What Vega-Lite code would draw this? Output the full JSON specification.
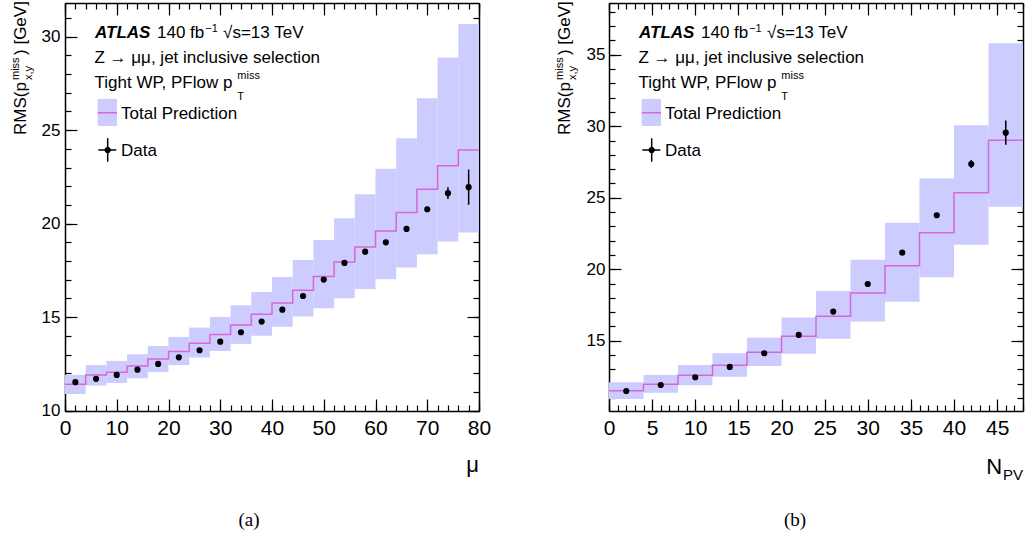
{
  "$schema": "https://vega.github.io/schema/vega-lite/v6.json",
  "padding": {"left": 10, "top": 1, "right": 6, "bottom": 2},
  "background": "white",
  "spacing": 63,
  "config": {
    "view": {"stroke": null},
    "font": "Liberation Sans",
    "text": {"font": "Liberation Sans", "color": "black"},
    "axis": {"grid": false, "tickColor": "black", "tickWidth": 1.2, "domainColor": "black", "domainWidth": 1.5, "labelColor": "black", "labelFont": "Liberation Sans", "labelFlush": false, "labelOverlap": false, "zindex": 1}
  },
  "datasets": {
    "mu": [
      {"mu": 2, "lo": 0, "hi": 4, "pred": 11.41, "lower": 10.89, "upper": 11.91, "rms": 11.52, "err": 0.03},
      {"mu": 6, "lo": 4, "hi": 8, "pred": 11.91, "lower": 11.34, "upper": 12.44, "rms": 11.70, "err": 0.03},
      {"mu": 10, "lo": 8, "hi": 12, "pred": 12.05, "lower": 11.48, "upper": 12.66, "rms": 11.91, "err": 0.03},
      {"mu": 14, "lo": 12, "hi": 16, "pred": 12.39, "lower": 11.73, "upper": 13.02, "rms": 12.19, "err": 0.03},
      {"mu": 18, "lo": 16, "hi": 20, "pred": 12.76, "lower": 12.07, "upper": 13.46, "rms": 12.50, "err": 0.03},
      {"mu": 22, "lo": 20, "hi": 24, "pred": 13.16, "lower": 12.44, "upper": 13.94, "rms": 12.85, "err": 0.03},
      {"mu": 26, "lo": 24, "hi": 28, "pred": 13.60, "lower": 12.84, "upper": 14.44, "rms": 13.23, "err": 0.03},
      {"mu": 30, "lo": 28, "hi": 32, "pred": 14.07, "lower": 13.19, "upper": 15.01, "rms": 13.69, "err": 0.03},
      {"mu": 34, "lo": 32, "hi": 36, "pred": 14.58, "lower": 13.57, "upper": 15.63, "rms": 14.19, "err": 0.03},
      {"mu": 38, "lo": 36, "hi": 40, "pred": 15.15, "lower": 14.01, "upper": 16.35, "rms": 14.76, "err": 0.03},
      {"mu": 42, "lo": 40, "hi": 44, "pred": 15.76, "lower": 14.49, "upper": 17.15, "rms": 15.40, "err": 0.04},
      {"mu": 46, "lo": 44, "hi": 48, "pred": 16.44, "lower": 15.03, "upper": 18.06, "rms": 16.13, "err": 0.04},
      {"mu": 50, "lo": 48, "hi": 52, "pred": 17.17, "lower": 15.48, "upper": 19.13, "rms": 17.01, "err": 0.05},
      {"mu": 54, "lo": 52, "hi": 56, "pred": 17.95, "lower": 16.01, "upper": 20.29, "rms": 17.90, "err": 0.05},
      {"mu": 58, "lo": 56, "hi": 60, "pred": 18.75, "lower": 16.51, "upper": 21.57, "rms": 18.50, "err": 0.06},
      {"mu": 62, "lo": 60, "hi": 64, "pred": 19.61, "lower": 17.03, "upper": 22.93, "rms": 19.00, "err": 0.08},
      {"mu": 66, "lo": 64, "hi": 68, "pred": 20.59, "lower": 17.65, "upper": 24.57, "rms": 19.72, "err": 0.1},
      {"mu": 70, "lo": 68, "hi": 72, "pred": 21.84, "lower": 18.36, "upper": 26.71, "rms": 20.77, "err": 0.15},
      {"mu": 74, "lo": 72, "hi": 76, "pred": 23.10, "lower": 19.04, "upper": 28.89, "rms": 21.63, "err": 0.31},
      {"mu": 78, "lo": 76, "hi": 80, "pred": 23.94, "lower": 19.52, "upper": 30.68, "rms": 21.95, "err": 0.94}
    ],
    "npv": [
      {"npv": 2, "lo": 0, "hi": 4, "pred": 11.51, "lower": 10.93, "upper": 12.10, "rms": 11.49, "err": 0.03},
      {"npv": 6, "lo": 4, "hi": 8, "pred": 11.96, "lower": 11.37, "upper": 12.61, "rms": 11.91, "err": 0.03},
      {"npv": 10, "lo": 8, "hi": 12, "pred": 12.59, "lower": 11.89, "upper": 13.31, "rms": 12.45, "err": 0.03},
      {"npv": 14, "lo": 12, "hi": 16, "pred": 13.29, "lower": 12.49, "upper": 14.13, "rms": 13.17, "err": 0.03},
      {"npv": 18, "lo": 16, "hi": 20, "pred": 14.20, "lower": 13.24, "upper": 15.22, "rms": 14.13, "err": 0.03},
      {"npv": 22, "lo": 20, "hi": 24, "pred": 15.31, "lower": 14.10, "upper": 16.62, "rms": 15.41, "err": 0.03},
      {"npv": 26, "lo": 24, "hi": 28, "pred": 16.71, "lower": 15.15, "upper": 18.48, "rms": 17.04, "err": 0.04},
      {"npv": 30, "lo": 28, "hi": 32, "pred": 18.34, "lower": 16.34, "upper": 20.67, "rms": 18.97, "err": 0.04},
      {"npv": 34, "lo": 32, "hi": 36, "pred": 20.25, "lower": 17.73, "upper": 23.26, "rms": 21.16, "err": 0.05},
      {"npv": 38, "lo": 36, "hi": 40, "pred": 22.56, "lower": 19.44, "upper": 26.34, "rms": 23.78, "err": 0.08},
      {"npv": 42, "lo": 40, "hi": 44, "pred": 25.36, "lower": 21.72, "upper": 30.07, "rms": 27.36, "err": 0.28},
      {"npv": 46, "lo": 44, "hi": 48, "pred": 29.02, "lower": 24.38, "upper": 35.80, "rms": 29.55, "err": 0.85}
    ]
  },
  "hconcat": [
    {
      "width": 414, "height": 408,
      "data": {"name": "mu"},
      "resolve": {"axis": {"x": "independent", "y": "independent"}},
      "layer": [
        {"mark": {"type": "rect", "color": "#ccccff"},
         "encoding": {
           "x": {"field": "lo", "type": "quantitative", "scale": {"domain": [0, 80], "nice": false, "zero": false},
                 "axis": {"orient": "bottom", "title": null, "values": [0,10,20,30,40,50,60,70,80], "tickSize": -12, "labelFontSize": 21, "labelPadding": 18}},
           "x2": {"field": "hi"},
           "y": {"field": "lower", "type": "quantitative", "scale": {"domain": [9.98, 31.8], "nice": false, "zero": false},
                 "axis": {"orient": "left", "title": null, "values": [10,15,20,25,30], "tickSize": -12, "labelFontSize": 17, "labelPadding": 17, "labelBaseline": "middle"}},
           "y2": {"field": "upper"}}},
        {"transform": [{"fold": ["lo", "hi"], "as": ["edge", "xpos"]}],
         "mark": {"type": "line", "color": "#d966d6", "strokeWidth": 1.5},
         "encoding": {
           "x": {"field": "xpos", "type": "quantitative", "axis": {"orient": "bottom", "title": null, "values": [0,2,4,6,8,10,12,14,16,18,20,22,24,26,28,30,32,34,36,38,40,42,44,46,48,50,52,54,56,58,60,62,64,66,68,70,72,74,76,78,80], "tickSize": -6, "labels": false, "domain": false}},
           "y": {"field": "pred", "type": "quantitative", "axis": {"orient": "left", "title": null, "values": [10,11,12,13,14,15,16,17,18,19,20,21,22,23,24,25,26,27,28,29,30,31], "tickSize": -6, "labels": false, "domain": false}}}},
        {"transform": [{"calculate": "datum.rms - datum.err", "as": "elo"}, {"calculate": "datum.rms + datum.err", "as": "ehi"}],
         "mark": {"type": "rule", "color": "black", "strokeWidth": 1.5},
         "encoding": {
           "x": {"field": "mu", "type": "quantitative", "axis": {"orient": "top", "title": null, "values": [0,2,4,6,8,10,12,14,16,18,20,22,24,26,28,30,32,34,36,38,40,42,44,46,48,50,52,54,56,58,60,62,64,66,68,70,72,74,76,78,80], "tickSize": -6, "labels": false, "domain": false}},
           "y": {"field": "elo", "type": "quantitative", "axis": {"orient": "right", "title": null, "values": [10,11,12,13,14,15,16,17,18,19,20,21,22,23,24,25,26,27,28,29,30,31], "tickSize": -6, "labels": false, "domain": false}},
           "y2": {"field": "ehi"}}},
        {"mark": {"type": "circle", "color": "black", "size": 38, "opacity": 1},
         "encoding": {
           "x": {"field": "mu", "type": "quantitative", "axis": {"orient": "top", "title": null, "values": [0,10,20,30,40,50,60,70,80], "tickSize": -12, "labels": false}},
           "y": {"field": "rms", "type": "quantitative", "axis": {"orient": "right", "title": null, "values": [10,15,20,25,30], "tickSize": -12, "labels": false}}}},
        {"data": {"values": [{}]}, "mark": {"type": "text", "text": "ATLAS", "align": "left", "baseline": "alphabetic", "fontSize": 17, "fontStyle": "italic", "fontWeight": "bold"},
         "encoding": {"x": {"datum": 5.8, "type": "quantitative", "axis": null}, "y": {"datum": 29.91, "type": "quantitative", "axis": null}}},
        {"data": {"values": [{}]}, "mark": {"type": "text", "text": "140 fb", "align": "left", "baseline": "alphabetic", "fontSize": 17},
         "encoding": {"x": {"datum": 17.78, "type": "quantitative", "axis": null}, "y": {"datum": 29.91, "type": "quantitative", "axis": null}}},
        {"data": {"values": [{}]}, "mark": {"type": "text", "text": "−1", "align": "left", "baseline": "alphabetic", "fontSize": 11},
         "encoding": {"x": {"datum": 27.1, "type": "quantitative", "axis": null}, "y": {"datum": 30.23, "type": "quantitative", "axis": null}}},
        {"data": {"values": [{}]}, "mark": {"type": "text", "text": "√s=13 TeV", "align": "left", "baseline": "alphabetic", "fontSize": 17},
         "encoding": {"x": {"datum": 30.55, "type": "quantitative", "axis": null}, "y": {"datum": 29.91, "type": "quantitative", "axis": null}}},
        {"data": {"values": [{}]}, "mark": {"type": "text", "text": "Z → μμ, jet inclusive selection", "align": "left", "baseline": "alphabetic", "fontSize": 17},
         "encoding": {"x": {"datum": 5.7, "type": "quantitative", "axis": null}, "y": {"datum": 28.58, "type": "quantitative", "axis": null}}},
        {"data": {"values": [{}]}, "mark": {"type": "text", "text": "Tight WP, PFlow p", "align": "left", "baseline": "alphabetic", "fontSize": 17},
         "encoding": {"x": {"datum": 5.7, "type": "quantitative", "axis": null}, "y": {"datum": 27.24, "type": "quantitative", "axis": null}}},
        {"data": {"values": [{}]}, "mark": {"type": "text", "text": "miss", "align": "left", "baseline": "alphabetic", "fontSize": 11},
         "encoding": {"x": {"datum": 33.3, "type": "quantitative", "axis": null}, "y": {"datum": 27.72, "type": "quantitative", "axis": null}}},
        {"data": {"values": [{}]}, "mark": {"type": "text", "text": "T", "align": "left", "baseline": "alphabetic", "fontSize": 11},
         "encoding": {"x": {"datum": 33.3, "type": "quantitative", "axis": null}, "y": {"datum": 26.61, "type": "quantitative", "axis": null}}},
        {"data": {"values": [{}]}, "mark": {"type": "rect", "color": "#ccccff"},
         "encoding": {"x": {"datum": 6.32, "type": "quantitative", "axis": null}, "x2": {"datum": 10.05}, "y": {"datum": 25.22, "type": "quantitative", "axis": null}, "y2": {"datum": 26.67}}},
        {"data": {"values": [{}]}, "mark": {"type": "rule", "color": "#d966d6", "strokeWidth": 1.5},
         "encoding": {"x": {"datum": 6.32, "type": "quantitative", "axis": null}, "x2": {"datum": 10.05}, "y": {"datum": 25.93, "type": "quantitative", "axis": null}}},
        {"data": {"values": [{}]}, "mark": {"type": "text", "text": "Total Prediction", "align": "left", "baseline": "alphabetic", "fontSize": 17},
         "encoding": {"x": {"datum": 10.82, "type": "quantitative", "axis": null}, "y": {"datum": 25.6, "type": "quantitative", "axis": null}}},
        {"data": {"values": [{}]}, "mark": {"type": "rule", "color": "black", "strokeWidth": 1.5},
         "encoding": {"x": {"datum": 6.43, "type": "quantitative", "axis": null}, "x2": {"datum": 9.91}, "y": {"datum": 23.94, "type": "quantitative", "axis": null}}},
        {"data": {"values": [{}]}, "mark": {"type": "rule", "color": "black", "strokeWidth": 1.5},
         "encoding": {"x": {"datum": 8.25, "type": "quantitative", "axis": null}, "y": {"datum": 23.31, "type": "quantitative", "axis": null}, "y2": {"datum": 24.57}}},
        {"data": {"values": [{}]}, "mark": {"type": "circle", "color": "black", "size": 38, "opacity": 1},
         "encoding": {"x": {"datum": 8.25, "type": "quantitative", "axis": null}, "y": {"datum": 23.94, "type": "quantitative", "axis": null}}},
        {"data": {"values": [{}]}, "mark": {"type": "text", "text": "Data", "align": "left", "baseline": "alphabetic", "fontSize": 17},
         "encoding": {"x": {"datum": 10.82, "type": "quantitative", "axis": null}, "y": {"datum": 23.62, "type": "quantitative", "axis": null}}},
        {"data": {"values": [{}]}, "mark": {"type": "text", "text": "RMS(p", "align": "left", "baseline": "alphabetic", "fontSize": 17, "angle": 270},
         "encoding": {"x": {"datum": -7.54, "type": "quantitative", "axis": null}, "y": {"datum": 24.74, "type": "quantitative", "axis": null}}},
        {"data": {"values": [{}]}, "mark": {"type": "text", "text": "miss", "align": "left", "baseline": "alphabetic", "fontSize": 11, "angle": 270},
         "encoding": {"x": {"datum": -8.83, "type": "quantitative", "axis": null}, "y": {"datum": 27.68, "type": "quantitative", "axis": null}}},
        {"data": {"values": [{}]}, "mark": {"type": "text", "text": "x,y", "align": "left", "baseline": "alphabetic", "fontSize": 11, "angle": 270},
         "encoding": {"x": {"datum": -6.38, "type": "quantitative", "axis": null}, "y": {"datum": 27.68, "type": "quantitative", "axis": null}}},
        {"data": {"values": [{}]}, "mark": {"type": "text", "text": ") [GeV]", "align": "left", "baseline": "alphabetic", "fontSize": 17, "angle": 270},
         "encoding": {"x": {"datum": -7.54, "type": "quantitative", "axis": null}, "y": {"datum": 29.02, "type": "quantitative", "axis": null}}},
        {"data": {"values": [{}]}, "mark": {"type": "text", "text": "μ", "align": "right", "baseline": "alphabetic", "fontSize": 22},
         "encoding": {"x": {"datum": 80, "type": "quantitative", "axis": null}, "y": {"datum": 6.72, "type": "quantitative", "axis": null}}},
        {"data": {"values": [{}]}, "mark": {"type": "text", "text": "(a)", "align": "center", "baseline": "alphabetic", "fontSize": 19, "font": "Liberation Serif"},
         "encoding": {"x": {"datum": 35.56, "type": "quantitative", "axis": null}, "y": {"datum": 3.83, "type": "quantitative", "axis": null}}}
      ]
    },
    {
      "width": 414, "height": 408,
      "data": {"name": "npv"},
      "resolve": {"axis": {"x": "independent", "y": "independent"}},
      "layer": [
        {"mark": {"type": "rect", "color": "#ccccff"},
         "encoding": {
           "x": {"field": "lo", "type": "quantitative", "scale": {"domain": [0, 48], "nice": false, "zero": false},
                 "axis": {"orient": "bottom", "title": null, "values": [0,5,10,15,20,25,30,35,40,45], "tickSize": -12, "labelFontSize": 21, "labelPadding": 18}},
           "x2": {"field": "hi"},
           "y": {"field": "lower", "type": "quantitative", "scale": {"domain": [10.09, 38.62], "nice": false, "zero": false},
                 "axis": {"orient": "left", "title": null, "values": [15,20,25,30,35], "tickSize": -12, "labelFontSize": 17, "labelPadding": 16, "labelBaseline": "middle"}},
           "y2": {"field": "upper"}}},
        {"transform": [{"fold": ["lo", "hi"], "as": ["edge", "xpos"]}],
         "mark": {"type": "line", "color": "#d966d6", "strokeWidth": 1.5},
         "encoding": {
           "x": {"field": "xpos", "type": "quantitative", "axis": {"orient": "bottom", "title": null, "values": [0,1,2,3,4,5,6,7,8,9,10,11,12,13,14,15,16,17,18,19,20,21,22,23,24,25,26,27,28,29,30,31,32,33,34,35,36,37,38,39,40,41,42,43,44,45,46,47,48], "tickSize": -6, "labels": false, "domain": false}},
           "y": {"field": "pred", "type": "quantitative", "axis": {"orient": "left", "title": null, "values": [11,12,13,14,15,16,17,18,19,20,21,22,23,24,25,26,27,28,29,30,31,32,33,34,35,36,37,38], "tickSize": -6, "labels": false, "domain": false}}}},
        {"transform": [{"calculate": "datum.rms - datum.err", "as": "elo"}, {"calculate": "datum.rms + datum.err", "as": "ehi"}],
         "mark": {"type": "rule", "color": "black", "strokeWidth": 1.5},
         "encoding": {
           "x": {"field": "npv", "type": "quantitative", "axis": {"orient": "top", "title": null, "values": [0,1,2,3,4,5,6,7,8,9,10,11,12,13,14,15,16,17,18,19,20,21,22,23,24,25,26,27,28,29,30,31,32,33,34,35,36,37,38,39,40,41,42,43,44,45,46,47,48], "tickSize": -6, "labels": false, "domain": false}},
           "y": {"field": "elo", "type": "quantitative", "axis": {"orient": "right", "title": null, "values": [11,12,13,14,15,16,17,18,19,20,21,22,23,24,25,26,27,28,29,30,31,32,33,34,35,36,37,38], "tickSize": -6, "labels": false, "domain": false}},
           "y2": {"field": "ehi"}}},
        {"mark": {"type": "circle", "color": "black", "size": 38, "opacity": 1},
         "encoding": {
           "x": {"field": "npv", "type": "quantitative", "axis": {"orient": "top", "title": null, "values": [0,5,10,15,20,25,30,35,40,45], "tickSize": -12, "labels": false}},
           "y": {"field": "rms", "type": "quantitative", "axis": {"orient": "right", "title": null, "values": [15,20,25,30,35], "tickSize": -12, "labels": false}}}},
        {"data": {"values": [{}]}, "mark": {"type": "text", "text": "ATLAS", "align": "left", "baseline": "alphabetic", "fontSize": 17, "fontStyle": "italic", "fontWeight": "bold"},
         "encoding": {"x": {"datum": 3.48, "type": "quantitative", "axis": null}, "y": {"datum": 36.15, "type": "quantitative", "axis": null}}},
        {"data": {"values": [{}]}, "mark": {"type": "text", "text": "140 fb", "align": "left", "baseline": "alphabetic", "fontSize": 17},
         "encoding": {"x": {"datum": 10.67, "type": "quantitative", "axis": null}, "y": {"datum": 36.15, "type": "quantitative", "axis": null}}},
        {"data": {"values": [{}]}, "mark": {"type": "text", "text": "−1", "align": "left", "baseline": "alphabetic", "fontSize": 11},
         "encoding": {"x": {"datum": 16.25, "type": "quantitative", "axis": null}, "y": {"datum": 36.57, "type": "quantitative", "axis": null}}},
        {"data": {"values": [{}]}, "mark": {"type": "text", "text": "√s=13 TeV", "align": "left", "baseline": "alphabetic", "fontSize": 17},
         "encoding": {"x": {"datum": 18.33, "type": "quantitative", "axis": null}, "y": {"datum": 36.15, "type": "quantitative", "axis": null}}},
        {"data": {"values": [{}]}, "mark": {"type": "text", "text": "Z → μμ, jet inclusive selection", "align": "left", "baseline": "alphabetic", "fontSize": 17},
         "encoding": {"x": {"datum": 3.42, "type": "quantitative", "axis": null}, "y": {"datum": 34.4, "type": "quantitative", "axis": null}}},
        {"data": {"values": [{}]}, "mark": {"type": "text", "text": "Tight WP, PFlow p", "align": "left", "baseline": "alphabetic", "fontSize": 17},
         "encoding": {"x": {"datum": 3.42, "type": "quantitative", "axis": null}, "y": {"datum": 32.65, "type": "quantitative", "axis": null}}},
        {"data": {"values": [{}]}, "mark": {"type": "text", "text": "miss", "align": "left", "baseline": "alphabetic", "fontSize": 11},
         "encoding": {"x": {"datum": 19.98, "type": "quantitative", "axis": null}, "y": {"datum": 33.28, "type": "quantitative", "axis": null}}},
        {"data": {"values": [{}]}, "mark": {"type": "text", "text": "T", "align": "left", "baseline": "alphabetic", "fontSize": 11},
         "encoding": {"x": {"datum": 19.98, "type": "quantitative", "axis": null}, "y": {"datum": 31.84, "type": "quantitative", "axis": null}}},
        {"data": {"values": [{}]}, "mark": {"type": "rect", "color": "#ccccff"},
         "encoding": {"x": {"datum": 3.79, "type": "quantitative", "axis": null}, "x2": {"datum": 6.03}, "y": {"datum": 30.02, "type": "quantitative", "axis": null}, "y2": {"datum": 31.91}}},
        {"data": {"values": [{}]}, "mark": {"type": "rule", "color": "#d966d6", "strokeWidth": 1.5},
         "encoding": {"x": {"datum": 3.79, "type": "quantitative", "axis": null}, "x2": {"datum": 6.03}, "y": {"datum": 30.95, "type": "quantitative", "axis": null}}},
        {"data": {"values": [{}]}, "mark": {"type": "text", "text": "Total Prediction", "align": "left", "baseline": "alphabetic", "fontSize": 17},
         "encoding": {"x": {"datum": 6.49, "type": "quantitative", "axis": null}, "y": {"datum": 30.51, "type": "quantitative", "axis": null}}},
        {"data": {"values": [{}]}, "mark": {"type": "rule", "color": "black", "strokeWidth": 1.5},
         "encoding": {"x": {"datum": 3.86, "type": "quantitative", "axis": null}, "x2": {"datum": 5.95}, "y": {"datum": 28.34, "type": "quantitative", "axis": null}}},
        {"data": {"values": [{}]}, "mark": {"type": "rule", "color": "black", "strokeWidth": 1.5},
         "encoding": {"x": {"datum": 4.95, "type": "quantitative", "axis": null}, "y": {"datum": 27.52, "type": "quantitative", "axis": null}, "y2": {"datum": 29.16}}},
        {"data": {"values": [{}]}, "mark": {"type": "circle", "color": "black", "size": 38, "opacity": 1},
         "encoding": {"x": {"datum": 4.95, "type": "quantitative", "axis": null}, "y": {"datum": 28.34, "type": "quantitative", "axis": null}}},
        {"data": {"values": [{}]}, "mark": {"type": "text", "text": "Data", "align": "left", "baseline": "alphabetic", "fontSize": 17},
         "encoding": {"x": {"datum": 6.49, "type": "quantitative", "axis": null}, "y": {"datum": 27.92, "type": "quantitative", "axis": null}}},
        {"data": {"values": [{}]}, "mark": {"type": "text", "text": "RMS(p", "align": "left", "baseline": "alphabetic", "fontSize": 17, "angle": 270},
         "encoding": {"x": {"datum": -4.52, "type": "quantitative", "axis": null}, "y": {"datum": 29.39, "type": "quantitative", "axis": null}}},
        {"data": {"values": [{}]}, "mark": {"type": "text", "text": "miss", "align": "left", "baseline": "alphabetic", "fontSize": 11, "angle": 270},
         "encoding": {"x": {"datum": -5.3, "type": "quantitative", "axis": null}, "y": {"datum": 33.24, "type": "quantitative", "axis": null}}},
        {"data": {"values": [{}]}, "mark": {"type": "text", "text": "x,y", "align": "left", "baseline": "alphabetic", "fontSize": 11, "angle": 270},
         "encoding": {"x": {"datum": -3.83, "type": "quantitative", "axis": null}, "y": {"datum": 33.24, "type": "quantitative", "axis": null}}},
        {"data": {"values": [{}]}, "mark": {"type": "text", "text": ") [GeV]", "align": "left", "baseline": "alphabetic", "fontSize": 17, "angle": 270},
         "encoding": {"x": {"datum": -4.52, "type": "quantitative", "axis": null}, "y": {"datum": 34.98, "type": "quantitative", "axis": null}}},
        {"data": {"values": [{}]}, "mark": {"type": "text", "text": "N", "align": "right", "baseline": "alphabetic", "fontSize": 22},
         "encoding": {"x": {"datum": 45.57, "type": "quantitative", "axis": null}, "y": {"datum": 5.68, "type": "quantitative", "axis": null}}},
        {"data": {"values": [{}]}, "mark": {"type": "text", "text": "PV", "align": "right", "baseline": "alphabetic", "fontSize": 15},
         "encoding": {"x": {"datum": 48, "type": "quantitative", "axis": null}, "y": {"datum": 5.26, "type": "quantitative", "axis": null}}},
        {"data": {"values": [{}]}, "mark": {"type": "text", "text": "(b)", "align": "center", "baseline": "alphabetic", "fontSize": 19, "font": "Liberation Serif"},
         "encoding": {"x": {"datum": 21.57, "type": "quantitative", "axis": null}, "y": {"datum": 2.05, "type": "quantitative", "axis": null}}}
      ]
    }
  ]
}
